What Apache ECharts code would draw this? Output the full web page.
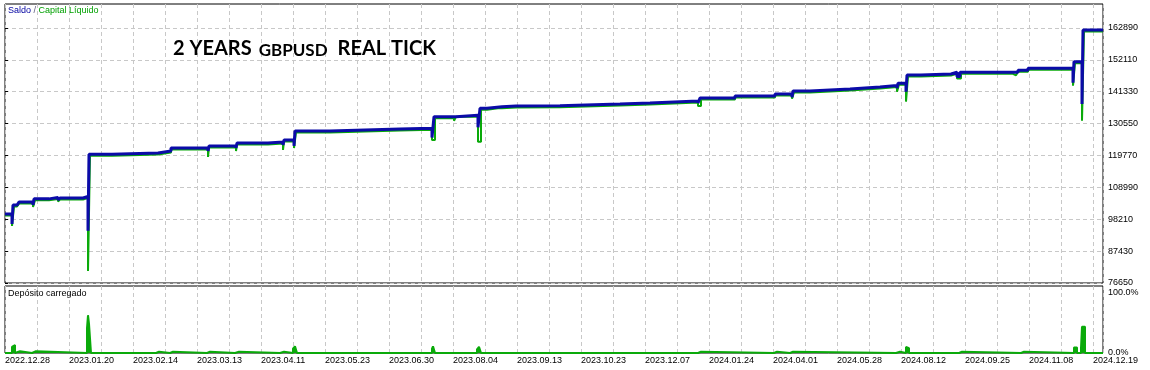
<!DOCTYPE html>
<html><head><meta charset="utf-8">
<script src="https://cdn.jsdelivr.net/npm/echarts@6/dist/echarts.min.js"></script>
<style>html,body{margin:0;padding:0;background:#fff}#c{width:1150px;height:370px}</style>
</head><body><div id="c"></div>
<script>
// x axis = deal sequence index (chart is drawn per deal, not by calendar time)
const dateLabels = ['2022.12.28','2023.01.20','2023.02.14','2023.03.13','2023.04.11','2023.05.23','2023.06.30','2023.08.04','2023.09.13','2023.10.23','2023.12.07','2024.01.24','2024.04.01','2024.05.28','2024.08.12','2024.09.25','2024.11.08','2024.12.19'];
const dealsPerLabel = 64;
const dealCount = 1098;
const yTicks = [76650, 87430, 98210, 108990, 119770, 130550, 141330, 152110, 162890];
const loadTicks = [0, 100];

// [deal index, balance]
const balance = [
  [0,100000],[7,96600],[8,103000],[12,102400],[14,104000],[28,103000],[29,105100],
  [44,104560],[46,105570],[53,104720],[55,105400],[78,104900],[79,105900],
  [83,94340],[84,120180],[107,120620],[153,121290],[166,122310],[203,121300],[204,122980],
  [231,122300],[232,124000],[263,124340],[278,123300],[279,125010],[289,123000],[290,128060],
  [325,128400],[360,128730],[395,128970],[427,125850],[429,132890],[451,133370],
  [473,129300],[475,135730],[482,136270],[497,136510],[511,136610],[555,137190],
  [615,137530],[645,138200],[693,137500],[695,139200],[730,139900],[770,140580],
  [787,139500],[788,141600],[805,142260],[845,142900],[875,143445],[892,142500],[893,144190],
  [901,141360],[902,147000],[916,147330],[946,147900],[952,146500],[955,147900],
  [1008,147500],[1010,147900],[1013,148580],[1023,149260],[1068,144390],[1069,151490],
  [1077,137190],[1078,162215],[1098,162215]
];
// [deal index, equity]
const equity = [
  [0,99500],[7,95930],[9,102500],[12,102020],[14,103500],[28,102350],[30,104600],
  [44,104060],[46,105070],[53,104220],[55,104900],[78,104400],[79,105400],
  [83,80710],[85,119680],[107,120120],[153,120790],[166,121810],[203,119260],[204,122480],
  [231,121290],[232,123500],[263,123840],[278,121630],[279,124510],[289,122300],[291,127560],
  [325,127900],[360,128230],[395,128470],[427,125010],[430,132390],[449,131540],[451,132870],
  [473,124440],[476,135230],[482,135770],[493,135160],[495,135770],[497,136010],[511,136110],
  [555,136690],[615,137030],[645,137700],[693,136510],[696,138700],[730,139400],[770,140080],
  [787,139000],[789,141100],[805,141760],[845,142400],[875,142945],[892,141350],[894,143690],
  [901,137970],[903,146500],[916,146830],[946,147400],[952,145840],[956,147400],
  [1008,146880],[1011,147400],[1013,148080],[1023,148760],[1049,148350],[1050,148760],
  [1068,143380],[1070,150990],[1077,131540],[1079,161715],[1098,161715]
];
// [deal index, deposit load %]
const depositLoad = [
  [0,0],[7,10],[8,13],[10,0],[12,3],[15,0],[27,3],[31,0],
  [82,41],[83,62],[84,48],[86,0],[151,2],[154,0],[165,2],[168,0],[202,2],[205,0],
  [230,2],[234,0],[275,2],[279,0],[288,7],[290,11],[292,0],[427,7],[428,11],[430,0],
  [472,6],[474,10],[476,0],[643,2],[645,0],[693,2],[696,0],[769,2],[772,0],[785,2],[788,0],
  [891,2],[895,0],[901,10],[902,8],[904,0],[954,2],[957,0],[1016,2],[1019,0],
  [1069,9],[1072,0],[1076,8],[1077,43],[1080,0],[1098,0]
];

const chart = echarts.init(document.getElementById('c'), null, {renderer:'canvas'});
const FONT = 'Liberation Sans';
const dash = {color:'#c8c8c8', width:1, type:[4,3]};
const xBase = {type:'value', min:0, max:dealCount, interval:32,
  axisLine:{show:false}, axisTick:{show:false}, splitLine:{show:true, lineStyle:dash}};
chart.setOption({
  animation:false,
  backgroundColor:'#fff',
  title:[
    {left:8, top:6, padding:0, text:'{a|Saldo} {s|/} {b|Capital Líquido}',
     textStyle:{fontFamily:FONT, fontSize:9, fontWeight:'normal', color:'#555', rich:{
       a:{fontFamily:FONT, fontSize:9, color:'#0000a0'}, s:{fontFamily:FONT, fontSize:9, color:'#606080'},
       b:{fontFamily:FONT, fontSize:9, color:'#00a000'}}}},
    {left:173, top:39, padding:0, text:'{a|2 YEARS}{b|GBPUSD}{a|REAL TICK}',
     textStyle:{fontFamily:'Lato', fontSize:20, fontWeight:'bold', color:'#000', rich:{
       a:{fontFamily:'Lato', fontSize:20, fontWeight:'bold', color:'#000', verticalAlign:'bottom'},
       b:{fontFamily:'Lato', fontSize:17, fontWeight:'bold', color:'#000', verticalAlign:'bottom', padding:[0,10,0,7]}}}},
    {left:8, top:289, padding:0, text:'Depósito carregado',
     textStyle:{fontFamily:FONT, fontSize:9, fontWeight:'normal', color:'#000'}}
  ],
  grid:[
    {left:5, right:47, top:4, height:279, show:true, borderColor:'#000', borderWidth:1, backgroundColor:'#fff', outerBoundsMode:'none', containLabel:false},
    {left:5, right:47, top:286, height:67, show:true, borderColor:'#000', borderWidth:1, backgroundColor:'#fff', outerBoundsMode:'none', containLabel:false}
  ],
  xAxis:[
    Object.assign({gridIndex:0, axisLabel:{show:false}}, xBase),
    Object.assign({gridIndex:1, axisLabel:{show:true, fontFamily:FONT, fontSize:9, color:'#000', align:'left', margin:3,
      showMaxLabel:false,
      formatter:v => (v % dealsPerLabel === 0 && dateLabels[v/dealsPerLabel]) ? dateLabels[v/dealsPerLabel] : ''}}, xBase)
  ],
  yAxis:[
    {gridIndex:0, type:'value', position:'right', min:yTicks[0], max:171000,
     axisLine:{show:false}, axisTick:{show:true, length:3, lineStyle:{color:'#000'}, customValues:yTicks},
     axisLabel:{show:true, customValues:yTicks, fontFamily:FONT, fontSize:9, color:'#000', margin:5, align:'left',
       formatter:v => String(v)},
     splitLine:{show:true, lineStyle:dash}},
    {gridIndex:1, type:'value', position:'right', min:0, max:110,
     axisLine:{show:false}, axisTick:{show:false, customValues:loadTicks},
     axisLabel:{show:true, customValues:loadTicks, fontFamily:FONT, fontSize:9, color:'#000', margin:5, align:'left',
       formatter:v => v.toFixed(1) + '%'},
     splitLine:{show:false}}
  ],
  series:[
    {name:'Capital Líquido', type:'line', xAxisIndex:0, yAxisIndex:0, data:equity, step:'end',
     showSymbol:false, lineStyle:{color:'#0aaa0a', width:2}, z:2},
    {name:'Saldo', type:'line', xAxisIndex:0, yAxisIndex:0, data:balance, step:'end',
     showSymbol:false, lineStyle:{color:'#0b0ba8', width:3}, z:3},
    {name:'Depósito carregado', type:'line', xAxisIndex:1, yAxisIndex:1, data:depositLoad, step:'end',
     showSymbol:false, lineStyle:{color:'#0aaa0a', width:2}, areaStyle:{color:'#0aaa0a', opacity:1}, z:3}
  ]
});
</script>
</body></html>
